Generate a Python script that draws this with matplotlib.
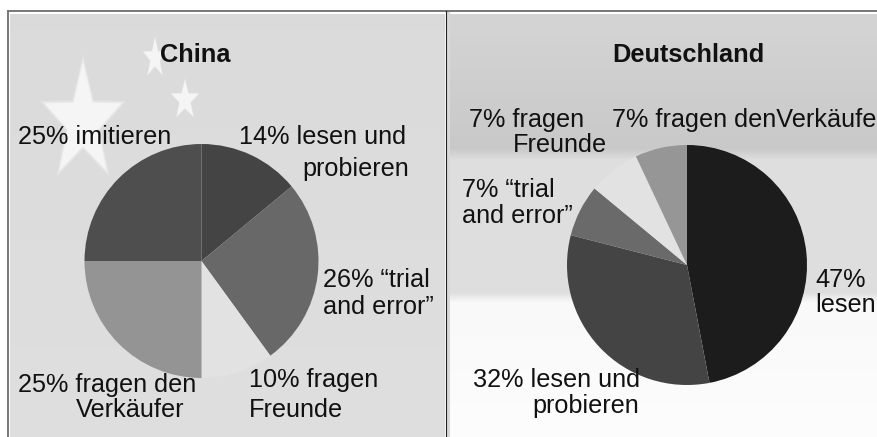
import numpy as np
import matplotlib
matplotlib.use("Agg")
import matplotlib.pyplot as plt

plt.rcParams['font.family'] = ['Liberation Sans', 'DejaVu Sans']

W, H = 877, 437

china_values = [14, 26, 10, 25, 25]
china_colors = ['#444444', '#686868', '#e2e2e2', '#949494', '#4e4e4e']
china_lines = ['14% lesen und', 'probieren', '26% \u201ctrial', 'and error\u201d', '10% fragen',
               'Freunde', '25% fragen den', 'Verk\u00e4ufer', '25% imitieren']

de_values = [47, 32, 7, 7, 7]
de_colors = ['#1c1c1c', '#444444', '#6a6a6a', '#e2e2e2', '#969696']
de_lines = ['47%', 'lesen', '32% lesen und', 'probieren', '7% \u201ctrial', 'and error\u201d',
            '7% fragen', 'Freunde', '7% fragen denVerk\u00e4ufer']


def yy(y):
    # picture pixels count from the top, the axes from the bottom
    return H - y


def soft_band(ax, x0, x1, y0, y1, stops):
    rows = np.interp(np.arange(y0, y1), [s[0] for s in stops], [s[1] for s in stops])
    ax.imshow(rows[:, None], extent=(x0, x1, yy(y1), yy(y0)), cmap='gray', vmin=0, vmax=255,
              aspect='auto', zorder=1)


def star(ax, cx, cy, rx, ry):
    a = np.pi / 2 + np.arange(10) * np.pi / 5
    r = np.where(np.arange(10) % 2 == 0, 1.0, 0.4)
    for grow, alpha in [(1.14, 0.25), (1.07, 0.45), (1.0, 1.0)]:
        ax.fill(cx + grow * rx * r * np.cos(a), yy(cy) + grow * ry * r * np.sin(a),
                color='#f5f5f5', alpha=alpha, lw=0, zorder=2)


fig = plt.figure(figsize=(W / 100, H / 100), dpi=100, facecolor='white')
ax = fig.add_axes([0, 0, 1, 1])

# backgrounds
soft_band(ax, 10, 445, 14, H, [(14, 218), (H, 222)])
ax.fill_between([447, 450], 0, yy(11), color='#d8d8d8', lw=0, zorder=1)
soft_band(ax, 450, W, 14, H, [(14, 212), (148, 200), (160, 222), (292, 222), (302, 248), (H, 252)])

# flag stars
star(ax, 83, 122, 40, 60)
star(ax, 155, 58, 12, 20)
star(ax, 185, 100, 14, 20)

# frame lines
ax.plot([8, W], [yy(11), yy(11)], color='#777777', lw=1.4, zorder=3)
ax.plot([8, 8], [yy(11), 0], color='#777777', lw=1.4, zorder=3)
ax.plot([446, 446], [yy(11), 0], color='#222222', lw=0.8, zorder=3)

ax.pie(china_values, colors=china_colors, startangle=90, counterclock=False,
       center=(201.5, yy(261)), radius=117, frame=True, wedgeprops={'zorder': 4})
ax.pie(de_values, colors=de_colors, startangle=90, counterclock=False,
       center=(687, yy(265)), radius=120, frame=True, wedgeprops={'zorder': 4})

ax.set_xlim(0, W)
ax.set_ylim(0, H)
ax.set_aspect('auto')
ax.axis('off')

ax.text(195, yy(62), 'China', ha='center', va='baseline', fontsize=18.3, fontweight='bold',
        color='#111111', zorder=6)
ax.text(688.5, yy(62), 'Deutschland', ha='center', va='baseline', fontsize=18.3, fontweight='bold',
        color='#111111', zorder=6)

china_pos = [(239, 144), (302, 176), (323, 287), (323, 314), (249, 387),
             (249, 417), (18, 392), (76, 417), (18, 144)]
de_pos = [(815, 287), (815, 312), (473, 387), (532, 413), (462, 197),
          (462, 223), (469, 127), (513, 152), (612, 127)]

for lines, pos in [(china_lines, china_pos), (de_lines, de_pos)]:
    for line, (x, y) in zip(lines, pos):
        ax.text(x, yy(y), line, ha='left', va='baseline', fontsize=18.2, color='#111111',
                zorder=6, clip_on=True)

fig.savefig('out.png', dpi=100)
